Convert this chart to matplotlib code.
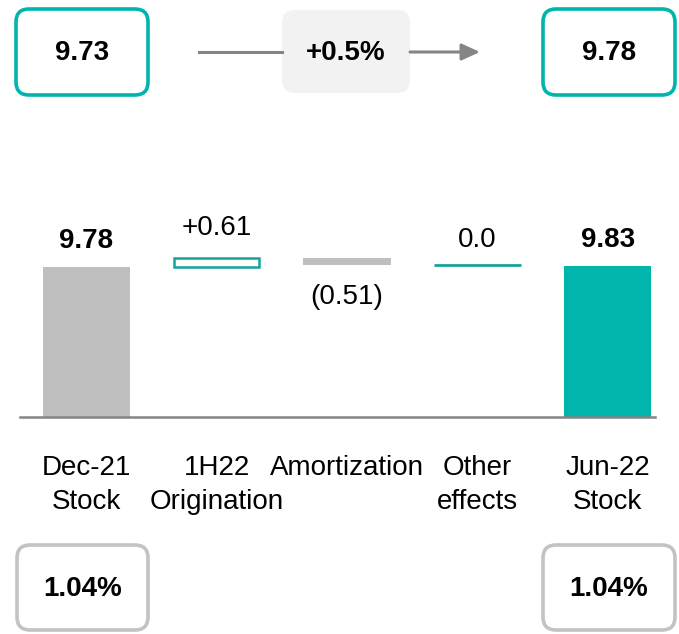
import matplotlib
matplotlib.use("Agg")
import matplotlib.pyplot as plt
from matplotlib.patches import FancyBboxPatch

plt.rcParams['font.family'] = ['Liberation Sans', 'DejaVu Sans']

# Data
categories = ["Dec-21\nStock", "1H22\nOrigination", "Amortization", "Other\neffects", "Jun-22\nStock"]
start_value = 9.78
changes = [0.61, -0.51, 0.0]
end_value = 9.83
value_labels = ["9.78", "+0.61", "(0.51)", "0.0", "9.83"]
top_values = ["9.73", "9.78"]
top_change = "+0.5%"
bottom_ratios = ["1.04%", "1.04%"]

TEAL = "#00b5ac"
TEAL_DARK = "#16a39a"
GRAY = "#bfbfbf"
LINE_GRAY = "#858585"

W, H = 679, 634
fig = plt.figure(figsize=(W / 100, H / 100), dpi=100)

# overlay axes in pixel coordinates for the boxes
ov = fig.add_axes((0, 0, 1, 1))
ov.set_xlim(0, W)
ov.set_ylim(H, 0)
ov.axis('off')


def rbox(x0, y0, x1, y1, text, edge, face="white", lw=2.6, bold=True):
    p = FancyBboxPatch((x0, y0), x1 - x0, y1 - y0,
                       boxstyle="round,pad=0,rounding_size=13",
                       fc=face, ec=edge, lw=lw)
    ov.add_patch(p)
    ov.text((x0 + x1) / 2, (y0 + y1) / 2 + 1, text, ha='center', va='center',
            fontsize=20, fontweight='bold' if bold else 'normal')


# top row
rbox(16, 9, 148, 95, top_values[0], TEAL)
rbox(543, 9, 675, 95, top_values[1], TEAL)
ov.plot([199, 282], [52, 52], color=LINE_GRAY, lw=2.2)
ov.annotate("", xy=(480, 52), xytext=(410, 52),
            arrowprops=dict(arrowstyle="-|>,head_length=1.1,head_width=0.5",
                            color=LINE_GRAY, lw=2.2, shrinkA=0, shrinkB=0))
rbox(282, 10, 410, 93, top_change, "none", face="#f2f2f2", lw=0)

# bottom row
rbox(17, 545, 148, 630, bottom_ratios[0], "#c3c3c3")
rbox(543, 545, 675, 630, bottom_ratios[1], "#c3c3c3")

# waterfall axes
base_px = 417
ax_top_px = 190
ax = fig.add_axes((21 / W, (H - base_px) / H, 652 / W, (base_px - ax_top_px) / H))
ymax = start_value * (base_px - ax_top_px) / 150.0
ax.set_xlim(-0.5, 4.5)
ax.set_ylim(0, ymax)
ax.axis('off')

bw = 0.67
x = list(range(len(categories)))

# start / end bars
ax.bar(x[0], start_value, width=bw, color=GRAY)
ax.bar(x[4], end_value, width=bw, color=TEAL)

level = start_value
# origination: hollow box
ax.bar(x[1], changes[0], bottom=level, width=bw * 0.98, facecolor="white",
       edgecolor=TEAL_DARK, lw=1.8)
level += changes[0]
# amortization: gray bar
ax.bar(x[2], changes[1], bottom=level, width=bw, color=GRAY)
level += changes[1]
# other effects: flat line
ax.hlines(level + changes[2], x[3] - bw / 2, x[3] + bw / 2, color=TEAL_DARK, lw=2)

# baseline
ax.plot([-0.505, 4.36], [0, 0], color=LINE_GRAY, lw=1.8, clip_on=False)

# value labels
ax.annotate(value_labels[0], (x[0], start_value), xytext=(0, 26), textcoords='offset pixels',
            ha='center', va='center', fontsize=20, fontweight='bold')
ax.annotate(value_labels[1], (x[1], start_value + changes[0]), xytext=(0, 30),
            textcoords='offset pixels', ha='center', va='center', fontsize=20)
ax.annotate(value_labels[2], (x[2], start_value + changes[0] + changes[1]), xytext=(0, -32),
            textcoords='offset pixels', ha='center', va='center', fontsize=20)
ax.annotate(value_labels[3], (x[3], level + changes[2]), xytext=(0, 25),
            textcoords='offset pixels', ha='center', va='center', fontsize=20)
ax.annotate(value_labels[4], (x[4], end_value), xytext=(0, 26), textcoords='offset pixels',
            ha='center', va='center', fontsize=20, fontweight='bold')

# category labels
for xi, lab in zip(x, categories):
    ax.annotate(lab, (xi, 0), xytext=(0, -38), textcoords='offset pixels',
                ha='center', va='top', fontsize=20, linespacing=1.38,
                annotation_clip=False)

fig.savefig("out.png", dpi=100)
